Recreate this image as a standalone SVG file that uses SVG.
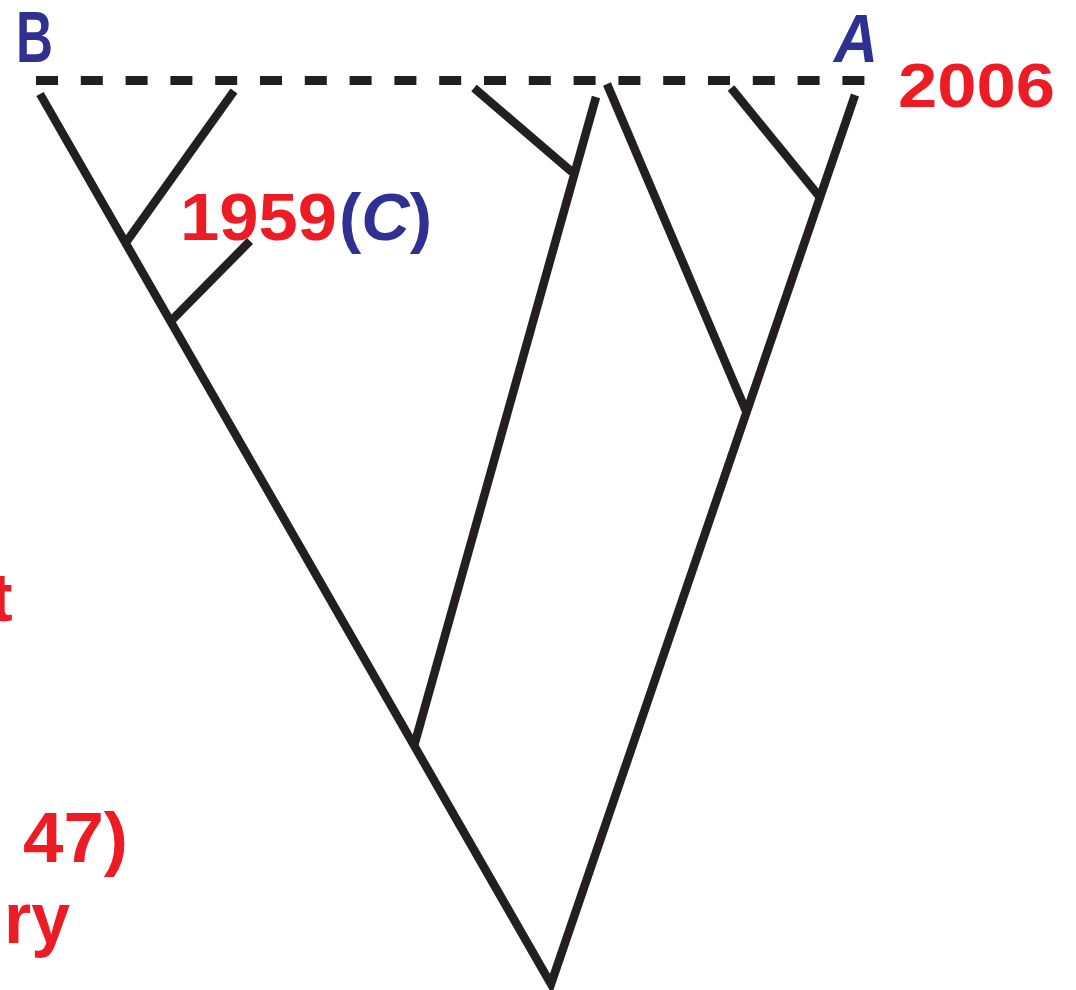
<svg xmlns="http://www.w3.org/2000/svg" width="1076" height="990" viewBox="0 0 1076 990">
<style>
.br{stroke:#231f20;stroke-width:8.5;fill:none;stroke-linecap:butt;stroke-linejoin:miter}
.dash{stroke:#231f20;stroke-width:9;stroke-dasharray:22 22.8;fill:none}
.red{fill:#ed1c24;font-family:"Liberation Sans",Arial,sans-serif;font-weight:bold}
.blue{fill:#2e3192;font-family:"Liberation Sans",Arial,sans-serif;font-weight:bold}
</style>
<rect width="1076" height="990" fill="#ffffff"/>
<g id="present-line">
<line class="dash" x1="36" y1="80.5" x2="866" y2="80.5"/>
</g>
<g id="connectors">
<polyline class="br" points="40,94 551,984 855,95"/>
<line class="br" x1="127" y1="241" x2="234" y2="91"/>
<line class="br" x1="171" y1="321" x2="250" y2="241"/>
<line class="br" x1="414" y1="746" x2="596" y2="97"/>
<line class="br" x1="572" y1="172" x2="474" y2="88"/>
<line class="br" x1="746" y1="411" x2="607" y2="84"/>
<line class="br" x1="819" y1="196" x2="731" y2="88"/>
</g>
<g id="label-B"><text class="blue" x="16" y="62" font-size="72" textLength="37" lengthAdjust="spacingAndGlyphs">B</text></g>
<g id="label-A"><text class="blue" x="834" y="62" font-size="68" font-style="italic" textLength="44" lengthAdjust="spacingAndGlyphs">A</text></g>
<g id="label-2006"><text class="red" x="898" y="107" font-size="63" textLength="157" lengthAdjust="spacingAndGlyphs">2006</text></g>
<g id="label-1959C">
<text class="red" y="240" font-size="67"><tspan x="180" textLength="157" lengthAdjust="spacingAndGlyphs">1959</tspan><tspan x="339" fill="#2e3192">(</tspan><tspan fill="#2e3192" font-style="italic">C</tspan><tspan fill="#2e3192">)</tspan></text>
</g>
<g id="label-t"><text class="red" x="-10" y="621" font-size="68">t</text></g>
<g id="label-47"><text class="red" x="23" y="862" font-size="70" textLength="105" lengthAdjust="spacingAndGlyphs">47)</text></g>
<g id="label-ry"><text class="red" x="4" y="943" font-size="72" textLength="66" lengthAdjust="spacingAndGlyphs">ry</text></g>
</svg>
